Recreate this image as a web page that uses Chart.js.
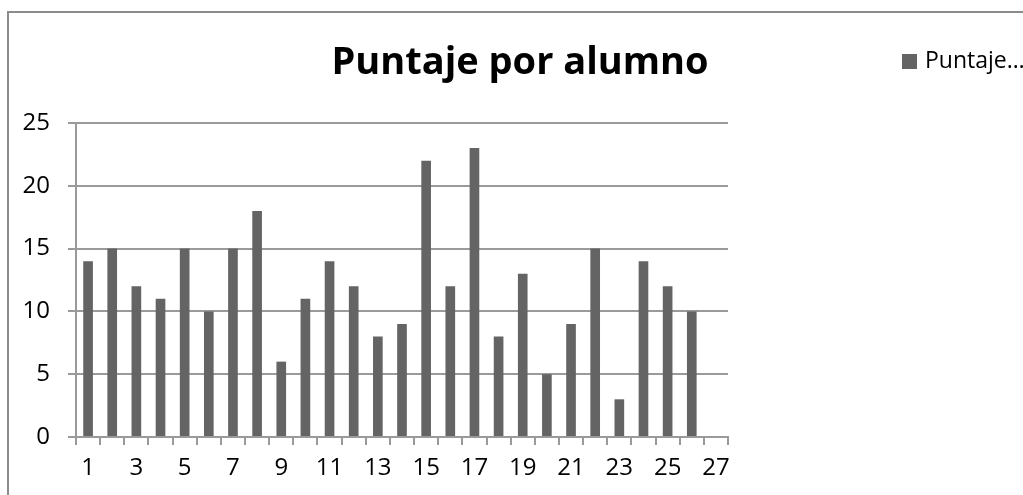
<!DOCTYPE html>
<html>
<head>
<meta charset="utf-8">
<script src="https://cdn.jsdelivr.net/npm/chart.js@4/dist/chart.umd.min.js"></script>
<style>
  html, body { margin: 0; padding: 0; background: #fff; }
  #wrap { position: relative; width: 1023px; height: 495px; }
</style>
</head>
<body>
<div id="wrap"><canvas id="chart" width="1023" height="495"></canvas></div>
<script>
// ── Data ──
const categories = ['1','2','3','4','5','6','7','8','9','10','11','12','13','14','15','16','17','18','19','20','21','22','23','24','25','26','27'];
const puntaje = [14, 15, 12, 11, 15, 10, 15, 18, 6, 11, 14, 12, 8, 9, 22, 12, 23, 8, 13, 5, 9, 15, 3, 14, 12, 10, null];
const yTicks = [0, 5, 10, 15, 20, 25];
const titleText = 'Puntaje por alumno';
const seriesName = 'Puntaje…';

const FONT = '"Open Sans", Lato, sans-serif';
const BAR = '#646464';
const GRID = '#9a9a9a';

// ── Frame, title, legend ──
const decor = {
  id: 'decor',
  beforeDraw(chart) {
    const c = chart.ctx;
    c.save();
    c.strokeStyle = '#8c8c8c';
    c.lineWidth = 2;
    c.strokeRect(8, 12, 1040, 500);
    c.restore();
  },
  afterDraw(chart) {
    const c = chart.ctx;
    c.save();
    c.fillStyle = '#000';
    c.font = 'bold 38px ' + FONT;
    c.textAlign = 'center';
    c.textBaseline = 'alphabetic';
    c.fillText(titleText, 520, 74);
    // legend
    c.fillStyle = BAR;
    c.fillRect(902, 54, 15, 15);
    c.fillStyle = '#000';
    c.font = '23px ' + FONT;
    c.textAlign = 'left';
    c.textBaseline = 'middle';
    c.fillText(seriesName, 925, 61);
    c.restore();
  }
};

new Chart(document.getElementById('chart'), {
  type: 'bar',
  data: {
    labels: categories,
    datasets: [{
      label: seriesName,
      data: puntaje,
      backgroundColor: BAR,
      barPercentage: 0.8,
      categoryPercentage: 0.5,
    }]
  },
  options: {
    responsive: false,
    animation: false,
    layout: { padding: { left: 0, top: 123, right: 295, bottom: 0 } },
    plugins: { legend: { display: false }, tooltip: { enabled: false } },
    scales: {
      x: {
        offset: true,
        grid: { offset: true, drawOnChartArea: false, color: GRID, tickLength: 8, lineWidth: 2 },
        border: { color: GRID, width: 2 },
        ticks: {
          autoSkip: false, maxRotation: 0, padding: 9,
          color: '#000', font: { family: FONT, size: 24 },
          callback: (v, i) => i % 2 === 0 ? categories[i] : ''
        },
        afterFit: s => { s.height = 58; }
      },
      y: {
        min: 0, max: 25,
        afterBuildTicks: s => { s.ticks = yTicks.map(v => ({ value: v })); },
        grid: { color: GRID, tickLength: 8, lineWidth: 2 },
        border: { color: GRID, width: 2 },
        ticks: { padding: 18, color: '#000', font: { family: FONT, size: 24 } },
        afterFit: s => { s.width = 76; }
      }
    }
  },
  plugins: [decor]
});
</script>
</body>
</html>
